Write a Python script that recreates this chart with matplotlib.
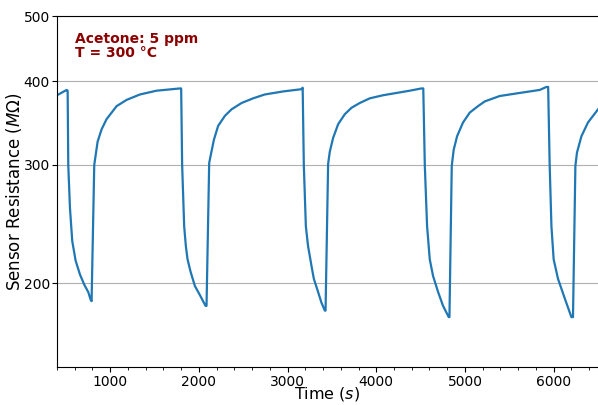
import matplotlib
matplotlib.use('Agg')
import matplotlib.pyplot as plt
import matplotlib.ticker as mticker
import numpy as np

# --- data (time in s, resistance in MOhm) ---
time_s = [
    400, 509, 520,
    # cycle 1
    527, 546, 572, 610, 659, 707, 752, 779,
    790, 820, 858, 903, 959, 1072, 1185, 1335, 1523, 1786, 1800,
    # cycle 2
    1811, 1834, 1853, 1872, 1906, 1955, 2011, 2075,
    2086, 2116, 2131, 2169, 2217, 2293, 2368, 2481, 2612, 2743, 2950, 3157, 3170,
    # cycle 3
    3183, 3206, 3231, 3270, 3296, 3344, 3382, 3420,
    3428, 3457, 3476, 3513, 3570, 3645, 3721, 3814, 3927, 4077, 4228, 4378, 4509, 4530,
    # cycle 4
    4547, 4573, 4603, 4640, 4697, 4753, 4817,
    4825, 4851, 4873, 4911, 4978, 5054, 5147, 5223, 5392, 5617, 5843, 5918, 5938,
    # cycle 5
    5955, 5975, 6000, 6049, 6124, 6200,
    6218, 6245, 6263, 6313, 6387, 6500,
]
resistance = [
    381, 388, 387,
    300, 259, 231, 216, 206, 199, 194, 189,
    188, 300, 325, 339, 351, 367, 375, 382, 387, 390, 390,
    300, 243, 227, 217, 208, 198, 192, 185,
    185, 302, 309, 327, 343, 355, 363, 371, 377, 382, 386, 389, 391,
    300, 243, 227, 212, 203, 194, 187, 182,
    182, 301, 314, 329, 345, 357, 365, 371, 377, 381, 384, 387, 390, 390,
    300, 243, 217, 205, 194, 185, 178,
    178, 299, 316, 331, 347, 359, 367, 373, 380, 384, 388, 392, 392,
    300, 243, 217, 203, 190, 178,
    178, 299, 313, 331, 347, 363,
]

y_ticks = [200, 300, 400, 500]

fig = plt.figure(figsize=(5.98, 4.05), dpi=100)
ax = fig.add_axes([57 / 598, 38 / 405, 541 / 598, 351 / 405])

ax.plot(time_s, resistance, color='#1f77b4', lw=1.6)

ax.set_yscale('log')
ax.set_ylim(150, 500)
ax.set_xlim(400, 6500)

ax.yaxis.set_major_locator(mticker.FixedLocator(y_ticks))
ax.yaxis.set_major_formatter(mticker.FormatStrFormatter('%d'))
ax.yaxis.set_minor_locator(mticker.NullLocator())
ax.xaxis.set_major_locator(mticker.MultipleLocator(1000))
ax.xaxis.set_minor_locator(mticker.MultipleLocator(200))
ax.tick_params(labelsize=10)
ax.tick_params(axis='y', pad=1.5)
ax.tick_params(axis='x', pad=2)

ax.grid(axis='y', color='#b0b0b0', lw=0.8)
ax.set_axisbelow(True)
ax.spines['right'].set_visible(False)

ax.set_xlabel('Time ($s$)', fontsize=11.5, labelpad=-2.5)
ax.set_ylabel(r'Sensor Resistance ($M\Omega$)', fontsize=12, labelpad=0)

ax.text(0.033, 0.955, 'Acetone: 5 ppm\nT = 300 °C', transform=ax.transAxes,
        fontsize=10, fontweight='bold', color='#8b0000', va='top', ha='left',
        linespacing=1.0)

fig.savefig('out.png', dpi=100)
plt.close(fig)
